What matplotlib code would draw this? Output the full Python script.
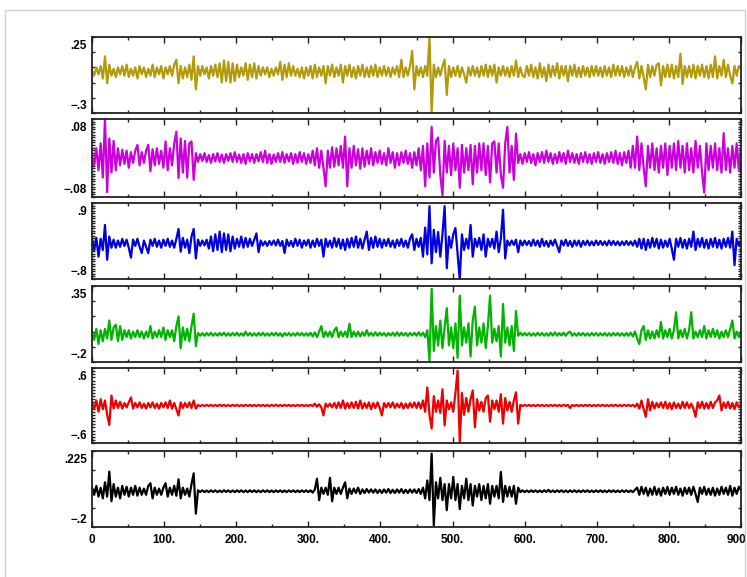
import numpy as np
import matplotlib
matplotlib.use("Agg")
import matplotlib.pyplot as plt
from matplotlib.patches import Rectangle
from matplotlib.transforms import ScaledTranslation

# samples every 3 units along x (0 .. 900)
x = np.arange(0, 901, 3)

gold = [
    0.01, -0.03, 0.03, -0.02, 0.04, -0.05, 0.11, -0.085, 0.05, -0.03, 0.02, -0.04, 0.03, -0.02, 0.04, -0.03, 0.05, -0.04, 0.02, -0.03, 0.03, -0.05, 0.04, -0.02, 0.03,
    -0.04, 0.02, -0.03, 0.05, -0.04, 0.03, -0.02, 0.04, -0.05, 0.03, -0.02, 0.04, -0.03, 0.05, 0.085, -0.085, 0.04, -0.05, 0.03, -0.04, 0.05, -0.06, 0.11, -0.13, 0.04,
    -0.03, 0.04, -0.02, 0.03, -0.05, 0.04, -0.03, 0.05, -0.04, 0.06, -0.08, 0.08, -0.07, 0.07, -0.08, 0.06, -0.07, 0.05, -0.04, 0.03, -0.03, 0.06, -0.06, 0.05, -0.04,
    0.06, -0.05, 0.04, -0.03, 0.03, -0.02, 0.03, -0.04, 0.02, -0.03, 0.03, -0.02, 0.07, -0.06, 0.05, -0.04, 0.06, -0.03, 0.04, -0.03, 0.02, -0.04, 0.03, -0.05, 0.03,
    -0.03, 0.04, -0.05, 0.05, -0.04, 0.03, -0.03, 0.04, -0.085, 0.04, -0.03, 0.05, -0.04, 0.03, -0.03, 0.05, -0.08, 0.04, -0.03, 0.05, -0.04, 0.03, -0.05, 0.04, -0.03,
    0.05, -0.04, 0.03, -0.04, 0.04, -0.03, 0.05, -0.04, 0.03, -0.03, 0.04, -0.03, 0.03, -0.04, 0.03, -0.02, 0.04, -0.04, 0.085, -0.04, 0.03, -0.03, 0.04, 0.15, -0.13,
    0.04, -0.03, 0.03, -0.04, 0.04, -0.03, 0.25, -0.30, 0.05, -0.04, 0.03, -0.03, 0.04, 0.085, -0.17, 0.04, -0.04, 0.03, -0.03, 0.04, -0.04, 0.03, -0.02, -0.08, 0.03,
    -0.03, 0.04, -0.03, 0.03, -0.04, 0.04, -0.03, 0.05, -0.04, 0.04, -0.03, 0.05, -0.08, 0.03, -0.03, 0.04, -0.03, 0.03, -0.04, 0.04, -0.03, 0.08, -0.04, 0.03, -0.03,
    -0.04, 0.04, -0.03, 0.05, -0.04, 0.03, -0.05, 0.06, -0.04, 0.03, -0.07, 0.05, -0.04, 0.04, -0.03, 0.06, -0.05, 0.04, -0.03, 0.04, -0.07, 0.04, -0.03, 0.05, -0.04,
    0.03, -0.04, 0.04, -0.03, 0.03, -0.04, 0.04, -0.03, 0.04, -0.03, 0.03, -0.04, 0.04, -0.03, 0.03, -0.04, 0.05, -0.03, 0.04, -0.03, 0.04, -0.04, 0.03, -0.03, 0.04,
    -0.04, 0.03, 0.07, -0.05, 0.04, -0.04, -0.13, 0.05, -0.04, 0.04, -0.03, 0.05, 0.06, -0.10, 0.04, -0.04, 0.05, -0.04, 0.05, -0.05, 0.04, -0.04, 0.13, -0.09, 0.04,
    -0.04, 0.04, -0.04, 0.05, -0.05, 0.04, -0.03, 0.05, -0.04, 0.04, -0.05, 0.05, -0.04, 0.11, -0.05, 0.04, -0.03, 0.085, -0.04, 0.05, -0.03, -0.085, 0.04, -0.03, 0.04,
    0.02,
]

purple = [
    0.005, -0.015, 0.02, -0.025, 0.03, -0.04, 0.08, -0.07, 0.04, -0.03, 0.035, -0.025, 0.02, -0.015, 0.017, -0.012, 0.015, -0.02, 0.012, -0.01, 0.015, 0.027, -0.015, 0.012, -0.01,
    0.015, 0.027, -0.027, 0.018, -0.015, 0.02, -0.012, 0.015, -0.02, 0.034, -0.025, 0.02, -0.015, 0.03, 0.054, -0.041, 0.04, -0.03, 0.035, -0.04, 0.03, 0.034, -0.045, 0.01, -0.008,
    0.008, -0.006, 0.01, -0.008, 0.006, -0.01, 0.008, -0.007, 0.01, -0.008, 0.007, -0.01, 0.008, -0.006, 0.01, -0.008, 0.012, -0.008, 0.007, -0.01, 0.008, -0.012, 0.01, -0.007, 0.008,
    -0.01, 0.008, -0.007, 0.012, -0.008, 0.015, -0.01, 0.008, -0.012, 0.007, -0.008, 0.01, -0.008, 0.012, -0.01, 0.008, -0.007, 0.01, -0.012, 0.008, -0.01, 0.012, -0.008, 0.01, -0.012,
    0.008, -0.01, 0.015, -0.015, 0.02, -0.02, 0.015, -0.02, -0.058, 0.015, -0.02, 0.022, -0.018, 0.02, -0.015, 0.025, -0.02, 0.044, -0.058, 0.02, -0.02, 0.025, -0.015, 0.018, -0.022,
    0.02, -0.018, 0.015, -0.012, 0.02, -0.015, 0.012, -0.01, 0.015, -0.012, 0.01, -0.015, 0.02, -0.01, 0.012, -0.02, 0.01, -0.015, 0.012, -0.01, 0.015, -0.012, 0.01, -0.02, 0.012,
    -0.015, 0.02, -0.025, 0.025, -0.058, 0.03, -0.04, 0.064, -0.03, 0.035, 0.042, -0.035, -0.077, 0.035, -0.03, 0.025, -0.035, 0.03, -0.025, 0.02, -0.061, 0.027, -0.03, 0.02, -0.025,
    0.027, -0.054, 0.025, -0.03, 0.03, -0.025, 0.03, -0.035, 0.025, -0.05, 0.03, 0.034, -0.03, 0.03, -0.035, -0.061, 0.03, 0.064, -0.03, 0.025, -0.045, 0.05, -0.01, 0.008, -0.012,
    0.01, -0.008, 0.012, -0.01, 0.008, -0.015, 0.01, -0.008, 0.012, -0.01, 0.015, -0.008, 0.01, -0.012, 0.008, -0.01, 0.012, -0.008, 0.01, -0.012, 0.015, -0.008, 0.01, -0.01, 0.008,
    -0.012, 0.01, -0.008, 0.012, -0.01, 0.008, -0.012, 0.01, -0.008, 0.012, -0.01, 0.008, -0.012, 0.01, -0.008, 0.012, -0.01, 0.015, -0.012, 0.01, -0.015, 0.012, -0.01, 0.015, -0.02,
    0.025, -0.02, 0.044, -0.025, 0.03, -0.02, -0.058, 0.025, -0.02, 0.03, -0.025, 0.02, -0.03, 0.025, -0.02, 0.03, -0.035, 0.025, -0.02, 0.03, -0.025, 0.035, -0.02, 0.025, -0.03,
    0.03, -0.025, 0.02, -0.03, 0.035, -0.02, 0.025, -0.03, -0.071, 0.03, -0.025, 0.025, -0.02, 0.03, -0.025, 0.02, -0.03, 0.051, -0.025, 0.02, -0.03, 0.025, -0.02, 0.03, -0.025,
    0.02,
]

blue = [
    0.1, -0.15, 0.12, -0.3, 0.1, -0.15, 0.41, -0.37, 0.15, -0.1, 0.08, -0.1, 0.06, -0.08, 0.1, -0.06, 0.08, -0.1, -0.32, 0.08, -0.06, 0.1, -0.08, -0.22, 0.06,
    -0.08, -0.22, 0.08, -0.06, 0.1, -0.08, 0.06, -0.1, 0.08, -0.06, 0.1, -0.08, 0.06, -0.1, 0.1, 0.32, -0.19, 0.12, -0.1, 0.08, -0.22, 0.15, 0.32, -0.34, 0.08,
    -0.06, 0.06, -0.05, 0.08, -0.12, 0.15, -0.18, 0.2, -0.15, 0.26, -0.2, 0.22, -0.15, 0.2, -0.18, 0.15, -0.12, 0.1, -0.08, 0.15, -0.1, 0.12, -0.08, 0.1, -0.06,
    0.08, 0.22, -0.2, 0.06, -0.05, 0.04, -0.06, 0.05, -0.04, 0.06, -0.05, 0.08, -0.06, 0.05, -0.22, 0.08, -0.06, 0.05, -0.08, 0.1, -0.06, 0.08, -0.1, 0.06, -0.05,
    0.08, -0.1, 0.06, -0.08, 0.1, -0.06, 0.08, -0.3, 0.1, -0.08, 0.06, -0.1, 0.12, -0.08, 0.1, -0.12, 0.08, -0.15, 0.1, -0.1, 0.12, -0.08, 0.15, -0.1, 0.1,
    -0.12, 0.08, 0.26, -0.15, 0.12, -0.1, 0.15, -0.08, 0.1, -0.1, 0.08, -0.06, 0.1, -0.08, 0.06, -0.1, 0.08, -0.06, 0.1, -0.08, 0.06, -0.1, 0.1, 0.2, -0.15,
    0.1, -0.08, 0.12, -0.3, 0.35, -0.25, 0.83, -0.45, 0.3, -0.2, 0.25, -0.3, 0.2, 0.83, -0.56, 0.15, -0.1, 0.2, 0.34, -0.25, -0.82, 0.2, -0.15, 0.1, -0.12,
    0.41, -0.3, 0.1, -0.08, 0.12, -0.15, 0.2, -0.3, 0.1, -0.08, 0.1, -0.12, 0.26, -0.2, 0.1, 0.75, -0.34, 0.06, -0.05, 0.06, -0.04, 0.08, -0.2, 0.06, -0.05,
    0.06, -0.04, 0.05, -0.06, 0.08, -0.05, 0.06, -0.08, 0.1, -0.06, 0.05, -0.08, 0.06, -0.05, 0.08, -0.06, -0.2, 0.06, -0.05, 0.08, -0.06, 0.05, -0.08, 0.06, -0.05,
    0.06, -0.08, 0.05, -0.04, 0.06, -0.05, 0.04, -0.05, 0.06, -0.04, 0.05, -0.04, 0.04, -0.05, 0.06, -0.04, 0.05, -0.04, 0.04, -0.05, 0.04, -0.04, 0.05, -0.04, 0.04,
    -0.05, 0.06, -0.08, 0.1, -0.12, 0.1, -0.15, 0.08, -0.1, 0.12, -0.08, 0.1, -0.12, 0.08, -0.1, 0.06, -0.08, 0.1, -0.12, -0.37, 0.1, -0.08, 0.12, -0.1, 0.08,
    -0.12, 0.1, -0.08, 0.26, -0.15, 0.1, -0.08, 0.12, -0.1, 0.08, -0.12, 0.1, -0.08, 0.12, -0.1, 0.08, -0.12, 0.1, -0.08, 0.12, -0.1, 0.26, -0.49, 0.1, -0.05,
    0.05,
]

green = [
    0.02, -0.04, 0.04, -0.07, 0.03, -0.05, 0.04, -0.03, 0.1, -0.04, 0.05, 0.07, -0.05, 0.06, -0.04, 0.03, -0.02, 0.03, -0.03, 0.02, -0.02, 0.03, -0.02, 0.02, -0.03,
    0.02, -0.02, 0.06, -0.03, 0.02, -0.02, 0.03, -0.02, 0.05, -0.04, 0.03, -0.02, 0.03, -0.05, 0.06, 0.13, -0.1, 0.05, -0.04, 0.04, -0.05, 0.06, 0.15, -0.085, 0.01,
    -0.01, 0.008, -0.01, 0.01, -0.008, 0.012, -0.01, 0.008, -0.01, 0.01, -0.008, 0.012, -0.01, 0.008, -0.01, 0.01, -0.008, 0.012, -0.01, 0.008, -0.01, 0.02, -0.008, 0.01, -0.01,
    0.008, -0.01, 0.01, -0.008, 0.012, -0.01, 0.008, -0.01, 0.01, -0.008, 0.012, -0.01, 0.008, -0.015, 0.01, -0.008, 0.01, -0.01, 0.008, -0.01, 0.012, -0.008, 0.01, -0.01, 0.008,
    -0.01, 0.012, -0.015, 0.015, -0.02, 0.02, 0.06, -0.02, 0.02, -0.015, 0.02, -0.02, 0.03, 0.05, -0.02, 0.02, -0.015, 0.02, -0.02, 0.077, -0.02, 0.02, -0.015, 0.02, -0.015,
    0.015, -0.01, 0.03, -0.01, 0.012, -0.01, 0.015, -0.01, 0.012, -0.008, 0.01, -0.012, 0.01, -0.008, 0.012, -0.01, 0.015, -0.01, 0.012, -0.008, 0.01, -0.012, 0.01, -0.008, 0.012,
    -0.01, 0.015, -0.01, 0.012, -0.02, 0.03, -0.19, 0.33, -0.12, 0.06, -0.08, 0.1, -0.1, 0.05, 0.19, -0.08, 0.05, -0.1, 0.08, -0.17, 0.28, -0.08, 0.05, -0.06, 0.08,
    -0.16, 0.1, 0.2, -0.08, 0.05, -0.06, 0.08, -0.1, 0.06, 0.28, -0.06, 0.04, -0.05, 0.06, -0.16, 0.22, -0.06, 0.05, -0.08, 0.06, -0.12, 0.17, -0.01, 0.012, -0.008,
    0.01, -0.008, 0.01, -0.01, 0.008, -0.01, 0.012, -0.008, 0.01, -0.01, 0.008, -0.01, 0.012, -0.008, 0.015, -0.01, 0.01, -0.008, 0.012, -0.01, 0.01, 0.02, -0.01, 0.008, -0.01,
    0.01, -0.008, 0.01, -0.01, 0.008, -0.01, 0.01, -0.008, 0.01, -0.01, 0.008, -0.008, 0.01, -0.01, 0.008, -0.01, 0.01, -0.008, 0.01, -0.01, 0.008, -0.01, 0.01, -0.01, 0.012,
    -0.015, 0.02, -0.03, -0.07, 0.03, 0.06, -0.04, 0.03, -0.03, 0.02, -0.03, 0.03, -0.02, 0.09, -0.03, 0.03, -0.02, 0.04, -0.03, 0.03, 0.16, -0.03, 0.03, -0.02, 0.04,
    -0.03, 0.03, 0.16, -0.03, 0.02, -0.02, 0.03, -0.02, 0.06, -0.03, 0.03, -0.02, 0.04, -0.02, 0.03, -0.03, 0.02, -0.02, 0.03, -0.02, 0.04, 0.1, -0.03, 0.02, -0.02,
    0.02,
]

red = [
    0.05, -0.06, 0.08, -0.1, 0.1, -0.06, 0.08, -0.15, -0.31, 0.16, -0.05, 0.08, -0.04, 0.06, -0.05, 0.04, -0.03, 0.05, 0.13, -0.05, 0.04, -0.03, 0.05, -0.04, 0.03,
    -0.05, 0.04, -0.03, 0.05, -0.04, 0.03, -0.05, 0.04, -0.03, 0.05, -0.04, 0.08, -0.05, 0.04, -0.06, -0.16, 0.05, -0.04, 0.04, -0.03, 0.05, -0.04, 0.08, -0.05, 0.01,
    -0.01, 0.008, -0.01, 0.01, -0.008, 0.01, -0.01, 0.008, -0.01, 0.012, -0.008, 0.01, -0.01, 0.008, -0.01, 0.01, -0.008, 0.01, -0.01, 0.008, -0.01, 0.01, -0.008, 0.01, -0.01,
    0.008, -0.01, 0.01, -0.008, 0.01, -0.01, 0.008, -0.01, 0.01, -0.008, 0.012, -0.01, 0.008, -0.01, 0.01, -0.008, 0.01, -0.01, 0.008, -0.01, 0.01, -0.008, 0.01, -0.01, 0.008,
    -0.01, 0.01, -0.01, 0.03, -0.02, 0.02, -0.03, -0.16, 0.03, -0.02, 0.03, -0.03, 0.04, -0.04, 0.05, -0.04, 0.08, -0.05, 0.04, -0.04, 0.05, -0.04, 0.06, -0.05, 0.08,
    -0.05, 0.04, -0.04, 0.05, -0.06, 0.04, -0.04, 0.05, -0.04, -0.16, 0.04, -0.03, 0.04, -0.03, 0.05, -0.04, 0.03, -0.03, 0.04, -0.05, 0.03, -0.04, 0.04, -0.03, 0.05,
    -0.04, 0.05, -0.05, 0.08, -0.1, 0.29, -0.15, -0.37, 0.15, -0.1, 0.08, -0.12, 0.26, -0.32, 0.08, -0.06, 0.05, -0.1, 0.2, 0.56, -0.6, 0.2, -0.15, 0.12, -0.1,
    0.1, 0.24, -0.35, 0.1, -0.08, 0.06, -0.1, 0.12, 0.16, -0.26, 0.08, -0.06, 0.08, -0.1, 0.18, -0.29, 0.12, -0.08, 0.06, -0.1, 0.08, 0.21, -0.29, 0.01, -0.01,
    0.01, -0.008, 0.01, -0.01, 0.008, -0.01, 0.01, -0.008, 0.01, -0.01, 0.008, -0.01, 0.01, -0.008, 0.01, -0.01, 0.008, -0.01, 0.01, -0.008, 0.01, -0.04, 0.01, -0.008, 0.01,
    -0.01, 0.008, -0.01, 0.01, -0.008, 0.01, -0.01, 0.008, -0.01, 0.01, -0.008, 0.01, -0.01, 0.008, -0.01, 0.01, -0.008, 0.01, -0.01, 0.008, -0.01, 0.01, -0.008, 0.01, -0.01,
    0.01, -0.02, 0.03, -0.05, 0.08, -0.06, -0.18, 0.1, -0.08, 0.06, -0.05, 0.04, -0.03, 0.05, -0.04, 0.06, -0.05, 0.04, -0.06, 0.05, -0.04, 0.03, -0.05, 0.06, -0.04,
    0.05, -0.04, 0.03, -0.05, -0.18, 0.05, -0.04, 0.06, -0.05, 0.04, -0.05, 0.06, -0.04, 0.05, 0.08, 0.16, -0.08, 0.05, -0.04, 0.06, -0.05, 0.04, -0.06, 0.05, -0.03,
    0.02,
]

black = [
    0.02, -0.02, 0.03, -0.03, 0.02, -0.04, 0.05, -0.03, 0.11, -0.056, 0.04, -0.03, 0.02, -0.04, 0.03, -0.02, 0.025, -0.03, 0.02, -0.02, 0.03, -0.025, 0.02, -0.02, 0.015,
    -0.02, 0.03, 0.045, -0.04, 0.02, -0.02, 0.015, -0.02, 0.02, 0.045, -0.03, 0.02, -0.02, 0.03, -0.025, 0.067, -0.04, 0.02, -0.02, 0.015, -0.03, 0.04, 0.1, -0.125, 0.005,
    -0.004, 0.005, -0.005, 0.004, -0.005, 0.005, -0.004, 0.005, -0.005, 0.004, -0.005, 0.006, -0.004, 0.005, -0.005, 0.004, -0.005, 0.005, -0.004, 0.005, -0.005, 0.004, -0.005, 0.005, -0.004,
    0.005, -0.005, 0.004, -0.005, 0.005, -0.004, 0.005, -0.005, 0.004, -0.005, 0.005, -0.004, 0.005, -0.005, 0.004, -0.005, 0.005, -0.004, 0.005, -0.005, 0.004, -0.005, 0.005, -0.004, 0.005,
    -0.005, 0.005, -0.008, 0.01, 0.07, -0.05, 0.02, -0.015, 0.02, -0.02, 0.075, -0.056, 0.02, -0.015, 0.02, -0.015, 0.02, 0.05, -0.04, 0.015, -0.015, 0.015, -0.01, 0.02, -0.015,
    0.01, -0.01, 0.012, -0.008, 0.01, -0.008, 0.01, -0.01, 0.008, -0.01, 0.01, -0.008, 0.012, -0.01, 0.008, -0.01, 0.01, -0.008, 0.012, -0.01, 0.008, -0.01, 0.01, -0.008, 0.01,
    -0.01, 0.012, -0.015, 0.02, -0.04, 0.06, -0.05, 0.21, -0.19, 0.05, -0.04, 0.075, -0.05, 0.04, -0.106, 0.04, -0.04, 0.08, -0.05, 0.04, -0.1, 0.03, -0.04, 0.07, -0.05,
    0.04, -0.08, 0.03, -0.03, 0.04, -0.05, 0.03, -0.04, 0.04, -0.07, 0.03, -0.03, 0.03, -0.04, 0.108, -0.06, 0.03, -0.03, 0.025, -0.03, 0.03, -0.07, 0.02, -0.005, 0.005,
    -0.005, 0.004, -0.005, 0.005, -0.004, 0.005, -0.005, 0.004, -0.005, 0.005, -0.004, 0.008, -0.005, 0.004, -0.005, 0.005, -0.004, 0.005, -0.005, 0.004, -0.005, 0.005, -0.004, 0.005, -0.005,
    0.004, -0.005, 0.005, -0.004, 0.005, -0.005, 0.004, -0.005, 0.005, -0.004, 0.005, -0.005, 0.004, -0.005, 0.005, -0.004, 0.005, -0.005, 0.004, -0.005, 0.005, -0.004, 0.005, -0.005, 0.004,
    -0.005, 0.008, 0.02, -0.02, 0.025, -0.015, 0.02, -0.025, 0.015, -0.02, 0.025, -0.02, 0.015, -0.025, 0.02, -0.015, 0.025, -0.02, 0.02, -0.015, 0.025, -0.02, 0.015, -0.025, 0.02,
    -0.015, 0.02, -0.02, 0.025, -0.015, -0.06, 0.02, -0.015, 0.025, -0.02, 0.015, -0.02, 0.02, -0.025, 0.015, -0.02, 0.025, -0.015, 0.02, -0.02, 0.03, -0.025, 0.02, -0.015, 0.025,
    0.01,
]

series = [gold, purple, blue, green, red, black]
colors = ["#b39a0a", "#cc00dd", "#0000e0", "#00b400", "#ee0000", "#000000"]
ylims = [(-0.3, 0.25), (-0.08, 0.08), (-0.8, 0.9), (-0.2, 0.35), (-0.6, 0.6), (-0.2, 0.225)]
ylabels = [(".25", "\u2212.3"), (".08", "\u2212.08"), (".9", "\u2212.8"),
           (".35", "\u2212.2"), (".6", "\u2212.6"), (".225", "\u2212.2")]
ydivs = [5, 30, 30, 5, 24, 4]
xticklabels = ["0", "100.", "200.", "300.", "400.", "500.", "600.", "700.", "800.", "900"]

W, H = 747, 577
# panel top/bottom in pixels from the top of the picture
panels = [(37, 113), (119, 197), (203, 279), (286, 362), (368, 443), (451, 527)]

fig = plt.figure(figsize=(W / 100, H / 100), dpi=100)
fig.patches.append(Rectangle((5 / W, -0.01), 740 / W, 1 - 10 / H + 0.01, transform=fig.transFigure,
                             fill=False, edgecolor="#cfcfcf", lw=1.0))

for i, (y, c, lim, lab, nd) in enumerate(zip(series, colors, ylims, ylabels, ydivs)):
    top, bot = panels[i]
    ax = fig.add_axes([92 / W, 1 - bot / H, 649 / W, (bot - top) / H])
    ax.plot(x, y, color=c, lw=1.6)
    ax.set_xlim(0, 900)
    ax.set_ylim(*lim)
    ax.set_xticks(np.arange(0, 901, 100))
    ax.set_xticks(np.arange(50, 900, 100), minor=True)
    ax.set_yticks(np.linspace(lim[0], lim[1], nd + 1))
    ax.set_yticklabels([])
    ax.tick_params(axis="both", which="both", direction="in", top=True, right=True, width=1.0, color="#222222")
    ax.tick_params(axis="x", which="major", length=4.5)
    ax.tick_params(axis="x", which="minor", length=2.5)
    ax.tick_params(axis="y", which="major", length=2.5)
    for s in ax.spines.values():
        s.set_linewidth(1.3)
        s.set_color("#222222")
    if i == 5:
        ax.set_xticklabels(xticklabels, fontsize=8.5, fontweight="bold", family="Liberation Sans")
        ax.tick_params(axis="x", pad=5)
        last = ax.xaxis.get_major_ticks()[-1].label1
        last.set_ha("right")
        last.set_transform(last.get_transform() + ScaledTranslation(5 / 100, 0, fig.dpi_scale_trans))
    else:
        ax.set_xticklabels([])
    ax.annotate(lab[0], xy=(0, 1), xycoords="axes fraction", xytext=(-5, -3), textcoords="offset pixels",
                ha="right", va="top", fontsize=8.5, fontweight="bold", family="Liberation Sans")
    ax.annotate(lab[1], xy=(0, 0), xycoords="axes fraction", xytext=(-5, 1), textcoords="offset pixels",
                ha="right", va="bottom", fontsize=8.5, fontweight="bold", family="Liberation Sans")

fig.savefig("out.png", dpi=100)
